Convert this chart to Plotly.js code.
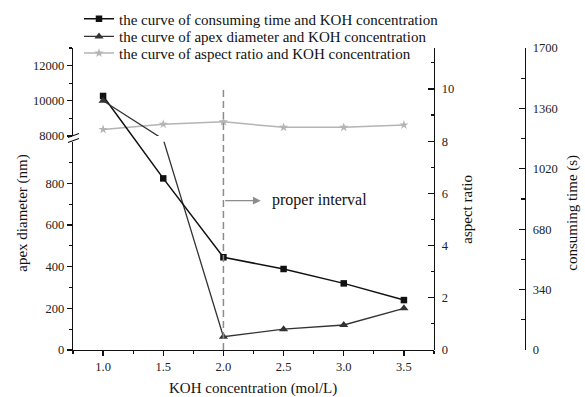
<!DOCTYPE html>
<html>
<head>
<meta charset="utf-8">
<script src="https://cdn.plot.ly/plotly-3.0.1.min.js"></script>
<style>
  html, body { margin: 0; padding: 0; background: #fff; }
  #chart { width: 585px; height: 397px; }
</style>
</head>
<body>
<div id="chart"></div>
<script>
// ---------------- data ----------------
const KOH = [1.0, 1.5, 2.0, 2.5, 3.0, 3.5];
const consumingTime = [1430, 966, 522, 456, 375, 281];     // s
const apexDiameter = [10000, 4000, 64, 100, 120, 200];      // nm (1.5 lies inside the axis break)
const aspectRatio = [8.45, 8.65, 8.74, 8.53, 8.53, 8.62];
const xTicks = [1.0, 1.5, 2.0, 2.5, 3.0, 3.5];
const apexLowerTicks = [0, 200, 400, 600, 800];
const apexLowerMinor = [100, 300, 500, 700, 900];
const apexUpperTicks = [8000, 10000, 12000];
const apexUpperMinor = [9000, 11000, 13000];
const timeTicks = [0, 340, 680, 1020, 1360, 1700];
const properIntervalStart = 2.0;

const seriesNames = [
  'the curve of consuming time and KOH concentration',
  'the curve of apex diameter and KOH concentration',
  'the curve of aspect ratio and KOH concentration'
];

// ---------------- geometry ----------------
const W = 585, H = 397;
const M = { l: 73, r: 60, t: 48, b: 47, autoexpand: false };
const PW = W - M.l - M.r, PH = H - M.t - M.b;
const px2x = px => (px - M.l) / PW;
const px2y = py => (H - M.b - py) / PH;

const xDomainEnd = px2x(434);
// broken apex-diameter axis
const BREAK_LO = 1000, BREAK_HI = 8000, APEX_TOP = 13000;
const dLow = px2y(141.7), dUp = px2y(136);
const U = BREAK_LO / dLow;
const gapD = (dUp - dLow) * U;
const upScale = (1 - dUp) * U / (APEX_TOP - BREAK_HI);
function disp(v) {
  if (v <= BREAK_LO) return v;
  if (v >= BREAK_HI) return BREAK_LO + gapD + (v - BREAK_HI) * upScale;
  return BREAK_LO + (v - BREAK_LO) / (BREAK_HI - BREAK_LO) * gapD;
}
const apexDisp = apexDiameter.map(disp);
const apexShown = apexDiameter.map((v, i) => (v > BREAK_LO && v < BREAK_HI) ? -1 : i).filter(i => i >= 0);

const FONT = 'Liberation Serif, Times New Roman, serif';
const tickFont = { family: FONT, size: 12.5, color: '#222' };

const triStyle = {
  type: 'scatter', mode: 'lines+markers',
  line: { color: '#333', width: 1.3 },
  marker: { symbol: 'triangle-up', size: 8, color: '#333' },
  selectedpoints: apexShown,
  selected: { marker: { opacity: 1 } },
  unselected: { marker: { opacity: 0 } }
};

const traces = [
  {
    x: KOH, y: consumingTime, xaxis: 'x', yaxis: 'y3', name: seriesNames[0], legend: 'legend',
    type: 'scatter', mode: 'lines+markers',
    line: { color: '#111', width: 1.5 },
    marker: { symbol: 'square', size: 6.5, color: '#111' }
  },
  Object.assign({ x: KOH, y: apexDisp, xaxis: 'x', yaxis: 'y', name: seriesNames[1], legend: 'legend2' }, triStyle),
  Object.assign({ x: KOH, y: apexDisp, xaxis: 'x', yaxis: 'y4', name: seriesNames[1], showlegend: false }, triStyle),
  {
    x: KOH, y: aspectRatio, xaxis: 'x', yaxis: 'y2', name: seriesNames[2], legend: 'legend3',
    type: 'scatter', mode: 'lines+markers',
    line: { color: '#b4b4b4', width: 1.5 },
    marker: { symbol: 'star', size: 7, color: '#b4b4b4' }
  }
];

const axisCommon = {
  showline: true, linecolor: '#111', linewidth: 1.3,
  showgrid: false, zeroline: false, tickfont: tickFont,
  tickcolor: '#111', tickwidth: 1.2, fixedrange: true
};

function legendAt(rowY) {
  return {
    x: px2x(79), y: px2y(rowY), xanchor: 'left', yanchor: 'middle',
    bgcolor: 'rgba(0,0,0,0)', borderwidth: 0,
    font: { family: FONT, size: 15, color: '#111' },
    itemwidth: 30
  };
}

const layout = {
  width: W, height: H,
  margin: M,
  paper_bgcolor: '#fff', plot_bgcolor: 'rgba(0,0,0,0)',
  font: { family: FONT, color: '#111' },
  showlegend: true,
  legend: legendAt(19),
  legend2: legendAt(36.7),
  legend3: legendAt(53.3),
  xaxis: Object.assign({}, axisCommon, {
    domain: [0, xDomainEnd], anchor: 'y', range: [0.75, 3.75],
    tickmode: 'array', tickvals: xTicks, ticktext: xTicks.map(v => v.toFixed(1)),
    ticks: 'outside', ticklen: 5,
    minor: { tickmode: 'linear', tick0: 0.75, dtick: 0.25, ticks: 'outside', ticklen: 3, tickcolor: '#111', tickwidth: 1.2 }
  }),
  yaxis: Object.assign({}, axisCommon, {
    domain: [0, dLow], anchor: 'x', side: 'left', range: [0, BREAK_LO],
    tickmode: 'array', tickvals: apexLowerTicks.map(disp), ticktext: apexLowerTicks.map(String),
    ticks: 'outside', ticklen: 5,
    minor: { tickmode: 'array', tickvals: apexLowerMinor.map(disp), ticks: 'outside', ticklen: 3, tickcolor: '#111', tickwidth: 1.2 }
  }),
  yaxis4: Object.assign({}, axisCommon, {
    domain: [dUp, 1], anchor: 'x', side: 'left',
    range: [disp(BREAK_HI), disp(APEX_TOP)],
    tickmode: 'array', tickvals: apexUpperTicks.map(disp), ticktext: apexUpperTicks.map(String),
    ticks: 'outside', ticklen: 5,
    minor: { tickmode: 'array', tickvals: apexUpperMinor.map(disp), ticks: 'outside', ticklen: 3, tickcolor: '#111', tickwidth: 1.2 }
  }),
  yaxis2: Object.assign({}, axisCommon, {
    domain: [0, 1], anchor: 'x', side: 'right', range: [0, 11.57],
    tickmode: 'linear', tick0: 0, dtick: 2,
    ticks: 'inside', ticklen: 6, ticklabelstandoff: 4,
    minor: { tickmode: 'linear', tick0: 1, dtick: 1, ticks: 'inside', ticklen: 3, tickcolor: '#111', tickwidth: 1.2 }
  }),
  yaxis3: Object.assign({}, axisCommon, {
    overlaying: 'y2', anchor: 'free', position: 1, side: 'right', range: [0, 1700],
    tickmode: 'array', tickvals: timeTicks, ticktext: timeTicks.map(String),
    ticks: 'inside', ticklen: 6, ticklabelstandoff: 4,
    minor: { tickmode: 'linear', tick0: 170, dtick: 340, ticks: 'inside', ticklen: 4, tickcolor: '#111', tickwidth: 1.2 }
  }),
  shapes: [
    // dashed marker of the proper interval
    { type: 'line', xref: 'x', yref: 'paper', x0: properIntervalStart, x1: properIntervalStart,
      y0: 0, y1: px2y(89), line: { color: '#8c8c8c', width: 1.5, dash: '7px,4px' } },
    // axis break marks
    { type: 'line', xref: 'paper', yref: 'paper', x0: px2x(68), y0: px2y(137.5), x1: px2x(79), y1: px2y(133.5),
      line: { color: '#111', width: 1.2 } },
    { type: 'line', xref: 'paper', yref: 'paper', x0: px2x(68), y0: px2y(142.5), x1: px2x(79), y1: px2y(138.5),
      line: { color: '#111', width: 1.2 } }
  ],
  annotations: [
    { xref: 'x', yref: 'paper', x: 2.31, y: px2y(200.7), ax: -37, ay: 0, axref: 'pixel', ayref: 'pixel',
      showarrow: true, arrowhead: 2, arrowsize: 1.2, arrowwidth: 1.3, arrowcolor: '#8c8c8c', text: '' },
    { xref: 'x', yref: 'paper', x: 2.385, y: px2y(200), xanchor: 'left', yanchor: 'middle',
      text: 'proper interval', showarrow: false, font: { family: FONT, size: 16, color: '#111' } },
    { xref: 'paper', yref: 'paper', x: px2x(253), y: px2y(388), xanchor: 'center', yanchor: 'middle',
      text: 'KOH concentration (mol/L)', showarrow: false, font: { family: FONT, size: 15, color: '#111' } },
    { xref: 'paper', yref: 'paper', x: px2x(21.7), y: px2y(213), xanchor: 'center', yanchor: 'middle', textangle: -90,
      text: 'apex diameter (nm)', showarrow: false, font: { family: FONT, size: 15, color: '#111' } },
    { xref: 'paper', yref: 'paper', x: px2x(466.7), y: px2y(209), xanchor: 'center', yanchor: 'middle', textangle: -90,
      text: 'aspect ratio', showarrow: false, font: { family: FONT, size: 15, color: '#111' } },
    { xref: 'paper', yref: 'paper', x: px2x(571.7), y: px2y(213), xanchor: 'center', yanchor: 'middle', textangle: -90,
      text: 'consuming time (s)', showarrow: false, font: { family: FONT, size: 15, color: '#111' } }
  ]
};

Plotly.newPlot('chart', traces, layout, { displayModeBar: false, staticPlot: true });
</script>
</body>
</html>
